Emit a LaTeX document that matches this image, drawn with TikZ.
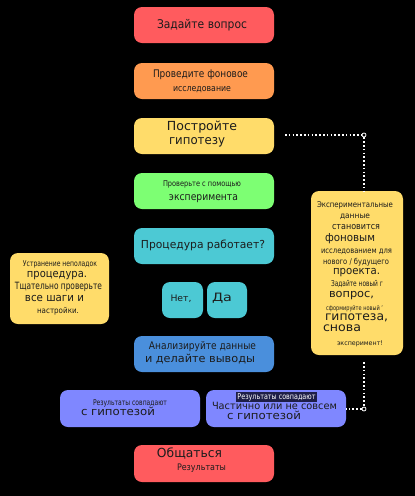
\documentclass[tikz,border=0pt]{standalone}
\usepackage{fontspec}
\setmainfont{DejaVu Sans}
\usepackage{graphicx}
\usetikzlibrary{fit}
\definecolor{cRed}{HTML}{FF5B5E}
\definecolor{cOrange}{HTML}{FF9A50}
\definecolor{cYellow}{HTML}{FFDC6A}
\definecolor{cGreen}{HTML}{7DFF73}
\definecolor{cCyan}{HTML}{4CC9D4}
\definecolor{cBlue}{HTML}{4A8FDC}
\definecolor{cPeri}{HTML}{7F87FF}
\definecolor{cText}{HTML}{1C1C1C}
\definecolor{cHi}{HTML}{1E1E48}
\tikzset{
  boxstyle/.style={rounded corners=8pt, inner sep=0pt, draw=none},
  dotline/.style={white, line width=1.5pt, dash pattern=on 1.6pt off 2.2pt},
  ring/.style={circle, draw=white, fill=black, line width=0.8pt, minimum size=4pt, inner sep=0pt},
}
\newcommand{\bx}[6]{\node[boxstyle, fill=#6, fit={(#2,#3) (#4,#5)}] (#1) {};}
\newcommand{\tx}[6]{\node[anchor=mid, inner sep=0pt, text=cText, font=\fontsize{#4}{#4}\selectfont] (#1) at (#2,#3) {\resizebox{#5pt}{\height}{#6}};}
\begin{document}
\begin{tikzpicture}[x=1pt, y=-1pt]
\fill[black] (0,0) rectangle (415,496);
\useasboundingbox (0,0) rectangle (415,496);
% boxes
\bx{ask}{134}{7}{274}{43}{cRed}
\bx{bg}{134}{63}{274}{99}{cOrange}
\bx{hyp}{134}{118}{274}{154}{cYellow}
\bx{exp}{134}{173}{274}{209}{cGreen}
\bx{proc}{134}{228}{274}{264}{cCyan}
\bx{no}{162}{282}{203}{318}{cCyan}
\bx{yes}{207}{282}{247}{318}{cCyan}
\bx{anl}{134}{336}{274}{372}{cBlue}
\bx{match}{60}{390}{200}{427}{cPeri}
\bx{part}{206}{390}{346}{427}{cPeri}
\bx{comm}{134}{445}{274}{482}{cRed}
\bx{fix}{10}{253}{109}{324}{cYellow}
\bx{newp}{311}{191}{403}{355}{cYellow}
% texts
\tx{t1}{202}{26}{12}{90}{Задайте вопрос}
\tx{t2a}{200.5}{75}{10.5}{95}{Проведите фоновое}
\tx{t2b}{202}{89}{9}{58}{исследование}
\tx{t3a}{202}{128}{12.5}{70}{Постройте}
\tx{t3b}{197}{142}{12.5}{56}{гипотезу}
\tx{t4a}{202}{184}{8}{78}{Проверьте с помощью}
\tx{t4b}{203.5}{198}{10.5}{69}{эксперимента}
\tx{t5}{203}{246}{11}{124}{Процедура работает?}
\tx{tn}{181}{299}{9}{21}{Нет,}
\tx{td}{222}{299}{11.5}{20}{Да}
\tx{t7a}{202.5}{347}{10.5}{107}{Анализируйте данные}
\tx{t7b}{200}{360}{11}{110}{и делайте выводы}
\tx{t8a}{130}{403}{8}{74}{Результаты совпадают}
\tx{t8b}{118}{413}{11}{74}{с гипотезой}
\fill[cHi] (236,392) rectangle (317,401.5);
\node[anchor=mid, inner sep=0pt, text=white, font=\fontsize{8}{8}\selectfont] (t9a) at (276.5,397) {\resizebox{78pt}{\height}{Результаты совпадают}};
\tx{t9b}{274.5}{407}{10}{125}{Частично или не совсем}
\tx{t9c}{264}{417}{11}{74}{с гипотезой}
\tx{t10a}{189.5}{455}{12.5}{65}{Общаться}
\tx{t10b}{201.5}{468}{9}{49}{Результаты}
\tx{l1}{60}{264}{8}{74}{Устранение неполадок}
\tx{l2}{57}{275}{11}{60}{процедура.}
\tx{l3}{58.5}{287}{10}{87}{Тщательно проверьте}
\tx{l4}{54.5}{299}{11}{59}{все шаги и}
\tx{l5}{58}{311}{8}{42}{настройки.}
\tx{r1}{355}{205}{8}{76}{Экспериментальные}
\tx{r2}{355}{216}{8}{30}{данные}
\tx{r3}{356}{227}{9}{48}{становится}
\tx{r4}{350}{239}{11}{50}{фоновым}
\tx{r5}{356.5}{251}{8}{71}{исследованием для}
\tx{r6}{356}{262}{8}{66}{нового / будущего}
\tx{r7}{356.5}{272}{11}{47}{проекта.}
\tx{r8}{357}{284}{8}{52}{Задайте новый г}
\tx{r9}{351.5}{295}{11}{45}{вопрос,}
\tx{r10}{354.5}{308}{6.5}{57}{сформируйте новый '}
\tx{r11}{356.5}{318}{12}{63}{гипотеза,}
\tx{r12}{342}{329}{12}{38}{снова}
\tx{r13}{360}{343}{6.5}{46}{эксперимент!}
% dotted connectors
\coordinate (d1) at (285,135);
\node[ring] (c1) at (364,135) {};
\node[ring] (c2) at (364,409) {};
\draw[dotline] (d1) -- (c1.west);
\draw[dotline] (c1.south) -- (c1 |- newp.north);
\draw[dotline] (c1 |- newp.south) ++(0,7) -- (c2.north);
\draw[dotline] (c2.west) -- (part.east |- c2);
\end{tikzpicture}
\end{document}
